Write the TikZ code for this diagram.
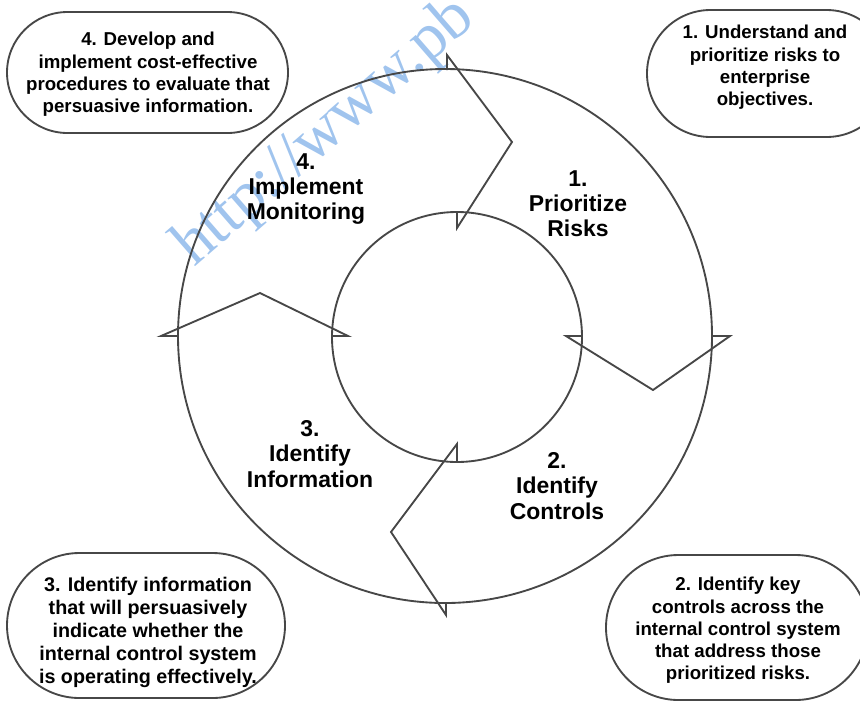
\documentclass[tikz,border=0pt]{standalone}
\usepackage{fontspec}
\setmainfont{Liberation Sans}
\newfontfamily\urlfont{Liberation Serif}
\usepackage{tikz}
\usetikzlibrary{shapes.misc}

\tikzset{
  ring/.style={line width=1.4pt, draw=black!72, line join=miter},
  pill/.style={rounded rectangle, draw=black!72, line width=1.4pt, inner sep=0pt},
  steplabel/.style={align=center, inner sep=0pt, anchor=north, font=\bfseries\fontsize{17.2}{19.1}\selectfont},
  notetext/.style={align=center, inner sep=0pt, anchor=north, font=\bfseries\fontsize{14}{16.7}\selectfont},
}

\begin{document}
\begin{tikzpicture}[x=0.75pt,y=0.75pt,yscale=-1,xscale=1]
%set diagram left start at 0, and has height of 701
\useasboundingbox (0,0) rectangle (860,701);
\clip (0,0) rectangle (860,701);

% Text Node: url stamp behind everything
\node (url) at (194,268) [anchor=base west, rotate=41, inner sep=0pt, text={rgb,255:red,160;green,196;blue,238}, font=\urlfont\fontsize{49}{49}\selectfont] {http://www.pb};

%Shape: Circle outer ring
\draw [ring] (445,336) circle [radius=267];
%Shape: Circle inner ring
\draw [ring] (457,337) circle [radius=125];

%Straight Lines: notch top
\draw [ring] (447,70) -- (447,55) -- (512,142) -- (457,228) -- (457,213);
%Straight Lines: notch right
\draw [ring] (582,336) -- (566,336) -- (653,390) -- (730,336) -- (713,336);
%Straight Lines: notch bottom
\draw [ring] (457,461) -- (457,444) -- (391,532) -- (446,615) -- (446,602);
%Straight Lines: notch left
\draw [ring] (177,336) -- (161,336) -- (260,293) -- (348,336) -- (332,336);

%Shape: Rounded Rect corner notes
\node (tlbox) at (147.5,72.5) [pill, minimum width=210.75pt, minimum height=90.75pt] {};
\node (trbox) at (768.5,73.5) [pill, minimum width=182.25pt, minimum height=95.25pt] {};
\node (blbox) at (146,625.5) [pill, minimum width=208.5pt, minimum height=108.75pt] {};
\node (brbox) at (737,627.5) [pill, minimum width=196.5pt, minimum height=108.75pt] {};

% Text Node
\node (tltext) at (148,32) [notetext] {4. Develop and\\implement cost-effective\\procedures to evaluate that\\persuasive information.};
% Text Node
\node (trtext) at (765,25) [notetext] {1. Understand and\\prioritize risks to\\enterprise\\objectives.};
% Text Node
\node (bltext) at (148,577) [notetext, font=\bfseries\fontsize{14.8}{17.3}\selectfont] {3. Identify information\\that will persuasively\\indicate whether the\\internal control system\\is operating effectively.};
% Text Node
\node (brtext) at (738,577) [notetext] {2. Identify key\\controls across the\\internal control system\\that address those\\prioritized risks.};

% Text Node
\node (prioritize) at (578,170) [steplabel] {1.\\Prioritize\\Risks};
% Text Node
\node (controls) at (557,452) [steplabel] {2.\\Identify\\Controls};
% Text Node
\node (information) at (310,420) [steplabel] {3.\\Identify\\Information};
% Text Node
\node (monitoring) at (306,153) [steplabel] {4.\\Implement\\Monitoring};
\end{tikzpicture}
\end{document}
